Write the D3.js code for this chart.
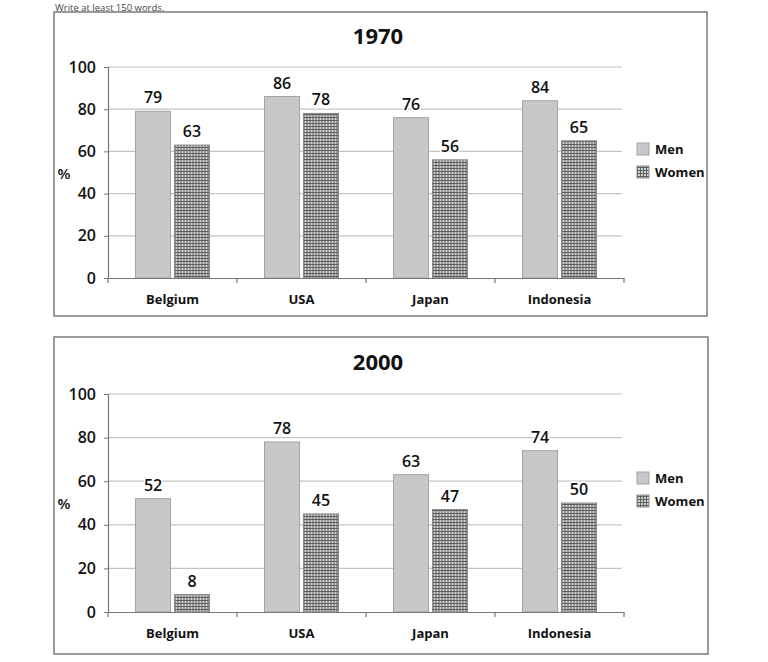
<!DOCTYPE html>
<html>
<head>
<meta charset="utf-8">
<script src="https://cdn.jsdelivr.net/npm/d3@7"></script>
<style>
  html, body { margin: 0; padding: 0; background: #fff; }
  svg { display: block; }
  text { font-family: "Open Sans", "DejaVu Sans", sans-serif; }
</style>
</head>
<body>
<script>
const categories = ["Belgium", "USA", "Japan", "Indonesia"];
const seriesNames = ["Men", "Women"];
const men1970 = [79, 86, 76, 84];
const women1970 = [63, 78, 56, 65];
const men2000 = [52, 78, 63, 74];
const women2000 = [8, 45, 47, 50];
const yTicks = [0, 20, 40, 60, 80, 100];
const titles = ["1970", "2000"];

const W = 768, H = 662;
const svg = d3.select("body").append("svg").attr("width", W).attr("height", H);

// pattern for Women
const defs = svg.append("defs");
const pat = defs.append("pattern").attr("id", "grid").attr("patternUnits", "userSpaceOnUse")
  .attr("width", 3).attr("height", 3);
pat.append("rect").attr("width", 3).attr("height", 3).attr("fill", "#d2d2d2");
pat.append("rect").attr("width", 3).attr("height", 1).attr("fill", "#5e5e5e");
pat.append("rect").attr("width", 1).attr("height", 3).attr("fill", "#5e5e5e");

const fills = { Men: "#c8c8c8", Women: "url(#grid)" };
const strokes = { Men: "#a3a3a3", Women: "#8a8a8a" };

// instruction line at very top
svg.append("text").attr("x", 55).attr("y", 10.5).attr("font-size", 9.5).attr("fill", "#444")
  .text("Write at least 150 words.");

const panels = [
  { box: [54, 12, 653, 304], top: 67, bottom: 278, titleY: 44, men: men1970, women: women1970, legendY: 143 },
  { box: [54, 337, 654, 317], top: 394, bottom: 612, titleY: 370, men: men2000, women: women2000, legendY: 472 }
];

const xLeft = 108, xRight = 624;

panels.forEach((p, pi) => {
  const g = svg.append("g");
  g.append("rect").attr("x", p.box[0]).attr("y", p.box[1]).attr("width", p.box[2]).attr("height", p.box[3])
    .attr("fill", "#fff").attr("stroke", "#7a7a7a").attr("stroke-width", 1.5);

  g.append("text").attr("x", 378).attr("y", p.titleY).attr("text-anchor", "middle")
    .attr("font-size", 22).attr("font-weight", 700).attr("fill", "#111").text(titles[pi]);

  const y = d3.scaleLinear().domain([0, 100]).range([p.bottom, p.top]);
  const x0 = d3.scaleBand().domain(categories).range([xLeft, xRight]).padding(0);
  const groupW = 74;
  const x1 = d3.scaleBand().domain(seriesNames).range([0, groupW]).paddingInner(0.1);

  // gridlines
  g.append("g").selectAll("line").data(yTicks.filter(t => t > 0)).join("line")
    .attr("x1", xLeft).attr("x2", xRight - 2).attr("y1", d => y(d)).attr("y2", d => y(d))
    .attr("stroke", "#c4c4c4").attr("stroke-width", 1.2);

  // y axis
  const ya = g.append("g").attr("transform", `translate(${xLeft},0)`)
    .call(d3.axisLeft(y).tickValues(yTicks).tickSize(4).tickPadding(8));
  ya.select(".domain").attr("stroke", "#777").attr("stroke-width", 1.2);
  ya.selectAll(".tick line").attr("stroke", "#777");
  ya.selectAll(".tick text").attr("font-size", 16).attr("font-weight", 600).attr("fill", "#111")
    .attr("font-family", "'Open Sans', sans-serif");

  g.append("text").attr("x", 64).attr("y", (p.top + p.bottom) / 2 + 6).attr("text-anchor", "middle")
    .attr("font-size", 15).attr("font-weight", 600).attr("fill", "#111").text("%");

  // bars
  const rows = categories.map((c, i) => ({ cat: c, vals: [
    { s: "Men", v: p.men[i] }, { s: "Women", v: p.women[i] }] }));
  const off = (x0.bandwidth() - groupW) / 2;
  const grp = g.append("g").selectAll("g").data(rows).join("g")
    .attr("transform", d => `translate(${x0(d.cat) + off},0)`);
  grp.selectAll("rect").data(d => d.vals).join("rect")
    .attr("x", d => x1(d.s)).attr("width", x1.bandwidth())
    .attr("y", d => y(d.v)).attr("height", d => y(0) - y(d.v))
    .attr("fill", d => fills[d.s]).attr("stroke", d => strokes[d.s]).attr("stroke-width", 1);
  grp.selectAll("text").data(d => d.vals).join("text")
    .attr("x", d => x1(d.s) + x1.bandwidth() / 2).attr("y", d => y(d.v) - 8)
    .attr("text-anchor", "middle").attr("font-size", 16).attr("font-weight", 600).attr("fill", "#111")
    .attr("stroke", "#fff").attr("stroke-width", 3).attr("paint-order", "stroke")
    .text(d => d.v);

  // x axis
  const xa = g.append("g").attr("transform", `translate(0,${p.bottom})`)
    .call(d3.axisBottom(x0).tickSize(0).tickPadding(17));
  xa.select(".domain").attr("stroke", "#777").attr("stroke-width", 1.2);
  xa.selectAll(".tick text").attr("font-size", 13).attr("font-weight", 700).attr("fill", "#111")
    .attr("font-family", "'Open Sans', sans-serif");
  const bounds = categories.map(c => x0(c)).concat([xRight]);
  xa.append("g").selectAll("line").data(bounds).join("line")
    .attr("x1", d => d).attr("x2", d => d).attr("y1", 0).attr("y2", 5)
    .attr("stroke", "#777").attr("stroke-width", 1.2);

  // legend
  const lg = g.append("g").attr("transform", `translate(637,${p.legendY})`);
  seriesNames.forEach((s, i) => {
    lg.append("rect").attr("x", 0).attr("y", i * 23).attr("width", 12).attr("height", 12)
      .attr("fill", fills[s]).attr("stroke", strokes[s]);
    lg.append("text").attr("x", 18).attr("y", i * 23 + 11).attr("font-size", 13).attr("font-weight", 700)
      .attr("fill", "#111").text(s);
  });
});
</script>
</body>
</html>
